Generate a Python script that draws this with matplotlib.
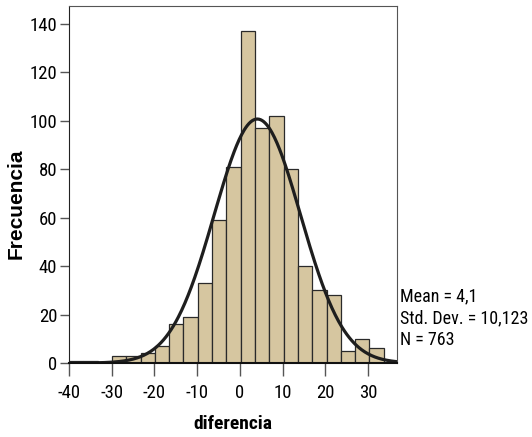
import numpy as np
import matplotlib.pyplot as plt

# histogram of "diferencia" (SPSS style)
bin_start = -40.0
bin_width = 3.35
counts = [1, 1, 0, 3, 3, 4, 7, 16, 19, 33, 59, 81,
          137, 97, 102, 80, 40, 30, 28, 5, 10, 6]
mean = 4.1
std = 10.123
n = 763
stats_lines = ["Mean = 4,1", "Std. Dev. = 10,123", "N = 763"]
x_ticks = [-40, -30, -20, -10, 0, 10, 20, 30]
y_ticks = [0, 20, 40, 60, 80, 100, 120, 140]

plt.rcParams["font.family"] = ["Roboto Condensed", "Liberation Sans", "DejaVu Sans"]
plt.rcParams["axes.unicode_minus"] = False

edges = bin_start + bin_width * np.arange(len(counts) + 1)

fig = plt.figure(figsize=(5.32, 4.37), dpi=100)
ax = fig.add_axes([0.1297, 0.1693, 0.6165, 0.8181])

ax.bar(edges[:-1], counts, width=bin_width, align="edge",
       color="#d6c6a0", edgecolor="#2a2a2a", linewidth=0.9)

xs = np.linspace(-40, 36.8, 400)
curve = n * bin_width / (std * np.sqrt(2 * np.pi)) * np.exp(-0.5 * ((xs - mean) / std) ** 2)
ax.plot(xs, curve, color="#1e1e1e", linewidth=2.3)

ax.set_xlim(-40, 36.8)
ax.set_ylim(0, 147.6)
ax.set_xticks(x_ticks)
ax.set_yticks(y_ticks)
ax.tick_params(axis="x", length=9, width=1, color="#555555", labelsize=13.5, pad=6)
ax.tick_params(axis="y", length=6.5, width=1, color="#555555", labelsize=13.5, pad=2)
for s in ax.spines.values():
    s.set_color("#555555")
ax.spines["bottom"].set_color("#111111")
ax.spines["bottom"].set_linewidth(1.5)
ax.spines["left"].set_color("#222222")

ax.set_xlabel("diferencia", fontsize=14, fontweight="bold")
ax.xaxis.set_label_coords(0.5, -0.145)
ax.set_ylabel("Frecuencia", fontsize=15, fontweight="bold",
              family=["Liberation Sans", "DejaVu Sans"])
ax.yaxis.set_label_coords(-0.131, 0.445)

for i, line in enumerate(stats_lines):
    fig.text(400 / 532, 1 - (296 + 22 * i) / 437, line, fontsize=13,
             ha="left", va="center")

fig.savefig("out.png", dpi=100)
